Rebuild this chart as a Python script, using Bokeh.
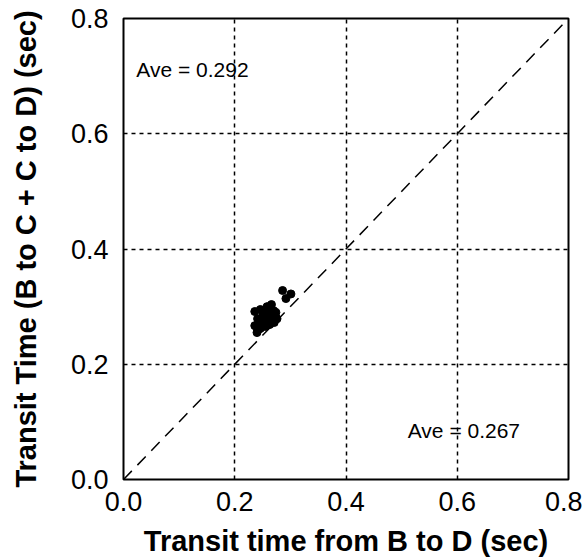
from bokeh.plotting import figure
from bokeh.models import Range1d, FixedTicker, PrintfTickFormatter, ColumnDataSource
from bokeh.core.properties import value
from bokeh.embed import file_html
from bokeh.resources import INLINE

# Data
bd_time = [0.236, 0.241, 0.236, 0.240, 0.246, 0.250, 0.253, 0.246, 0.258, 0.262,
           0.260, 0.255, 0.266, 0.270, 0.268, 0.263, 0.274, 0.276, 0.271, 0.244,
           0.251, 0.265, 0.241, 0.286, 0.301, 0.292]
bcd_time = [0.2915, 0.279, 0.267, 0.255, 0.295, 0.283, 0.2725, 0.262, 0.300, 0.288,
            0.276, 0.2655, 0.3036, 0.293, 0.281, 0.269, 0.290, 0.279, 0.2725, 0.274,
            0.290, 0.2967, 0.2585, 0.328, 0.322, 0.314]
identity = [0.0, 0.8]
ticks = [0.0, 0.2, 0.4, 0.6, 0.8]
ave_labels = ["Ave = 0.292", "Ave = 0.267"]
ave_x = [0.023, 0.511]
ave_y = [0.711, 0.085]

FONT = "Liberation Sans"

p = figure(frame_width=445, frame_height=461,
           x_range=Range1d(0, 0.8), y_range=Range1d(0, 0.8),
           output_backend="svg", toolbar_location=None,
           min_border_left=123, min_border_right=14,
           min_border_top=18, min_border_bottom=80,
           background_fill_color="white", border_fill_color="white")

p.outline_line_color = "black"
p.outline_line_width = 2
p.outline_line_alpha = 1

for ax in (p.xaxis, p.yaxis):
    ax.ticker = FixedTicker(ticks=ticks)
    ax.formatter = PrintfTickFormatter(format="%.1f")
    ax.major_tick_line_color = None
    ax.minor_tick_line_color = None
    ax.axis_line_color = None
    ax.major_label_text_font = FONT
    ax.major_label_text_font_size = "27px"
    ax.major_label_text_color = "black"
    ax.axis_label_text_font = FONT
    ax.axis_label_text_font_size = "29px"
    ax.axis_label_text_font_style = "bold"
    ax.axis_label_text_color = "black"

p.xaxis.axis_label = "Transit time from B to D (sec)"
p.yaxis.axis_label = "Transit Time (B to C + C to D) (sec)"
p.xaxis.major_label_standoff = 6
p.xaxis.axis_label_standoff = 11
p.yaxis.major_label_standoff = 9
p.yaxis.axis_label_standoff = 26

for g in (p.xgrid, p.ygrid):
    g.ticker = FixedTicker(ticks=ticks)
    g.grid_line_color = "black"
    g.grid_line_width = 1.5
    g.grid_line_dash = "4 4"
    g.grid_line_alpha = 1

p.line(identity, identity, line_color="black", line_width=1.5, line_dash="12 8")

src = ColumnDataSource(dict(x=bd_time, y=bcd_time))
p.scatter("x", "y", source=src, size=8, fill_color="black", line_color="black")

tsrc = ColumnDataSource(dict(x=ave_x, y=ave_y, t=ave_labels))
p.text("x", "y", text="t", source=tsrc, text_font=value(FONT),
       text_font_size="21px", text_baseline="middle", text_align="left",
       text_color="black")

open("out.html", "w").write(file_html(p, INLINE))
